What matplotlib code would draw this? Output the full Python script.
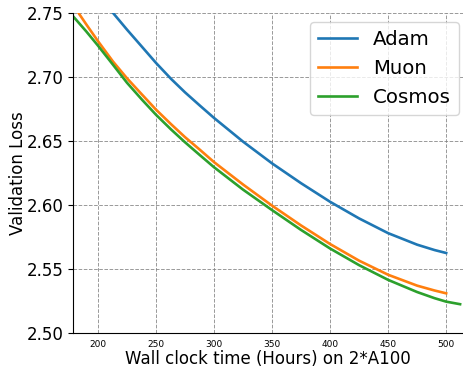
import matplotlib
matplotlib.use("Agg")
import matplotlib.pyplot as plt

# validation loss vs wall clock hours
adam_x = [190, 200, 213, 225, 238, 250, 263, 275, 288, 300, 325, 350, 375, 400, 425, 450, 475, 490, 500]
adam_y = [2.778, 2.765, 2.75, 2.737, 2.7235, 2.711, 2.6985, 2.688, 2.6775, 2.668, 2.6495, 2.6325,
          2.617, 2.6025, 2.5895, 2.578, 2.569, 2.5648, 2.5625]

muon_x = [178, 190, 200, 213, 225, 238, 250, 263, 275, 288, 300, 325, 350, 375, 400, 425, 450, 475, 490, 500]
muon_y = [2.757, 2.741, 2.728, 2.712, 2.699, 2.6862, 2.6745, 2.6631, 2.653, 2.643, 2.6335, 2.616,
          2.5995, 2.584, 2.5695, 2.5565, 2.5455, 2.537, 2.5332, 2.531]

cosmos_x = [178, 190, 200, 213, 225, 238, 250, 263, 275, 288, 300, 325, 350, 375, 400, 425, 450, 475, 490, 500, 512]
cosmos_y = [2.748, 2.7355, 2.7245, 2.7095, 2.6955, 2.6822, 2.6705, 2.659, 2.649, 2.6388, 2.6295, 2.612,
            2.596, 2.5805, 2.566, 2.553, 2.5415, 2.532, 2.5272, 2.5245, 2.5225]

fig = plt.figure(figsize=(4.63, 3.71), dpi=100)
ax = fig.add_axes([0.1577, 0.1024, 0.8423, 0.8626])

ax.plot(adam_x, adam_y, color='#1f77b4', lw=1.9, label='Adam')
ax.plot(muon_x, muon_y, color='#ff7f0e', lw=1.9, label='Muon')
ax.plot(cosmos_x, cosmos_y, color='#2ca02c', lw=1.9, label='Cosmos')

ax.set_xlim(178.5, 514.5)
ax.set_ylim(2.50, 2.75)
ax.set_yticks([2.50, 2.55, 2.60, 2.65, 2.70, 2.75])
ax.set_xticks([200, 250, 300, 350, 400, 450, 500])
ax.tick_params(axis='y', labelsize=12)
ax.tick_params(axis='x', labelsize=6.5, length=0, pad=5)

ax.grid(True, linestyle='--', color='gray', lw=0.7, alpha=0.8)
ax.spines['top'].set_visible(False)
ax.spines['right'].set_visible(False)

ax.set_xlabel('Wall clock time (Hours) on 2*A100', fontsize=12, labelpad=1)
ax.set_ylabel('Validation Loss', fontsize=12)
ax.yaxis.set_label_coords(-0.117, 0.5)
ax.legend(loc='upper right', fontsize=14.2, borderaxespad=0,
          bbox_to_anchor=(0.9914, 0.9407), bbox_transform=fig.transFigure)

fig.savefig('out.png', dpi=100)
